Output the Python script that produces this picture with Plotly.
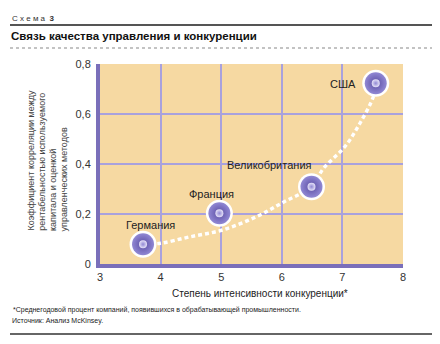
import plotly.graph_objects as go

# ---- data ----
countries = ["Германия", "Франция", "Великобритания", "США"]
competition = [3.71, 4.97, 6.49, 7.55]
correlation = [0.079, 0.203, 0.309, 0.723]

# dashed trend curve
curve_x = [3.71, 4.0, 4.49, 5.02, 5.58, 6.04, 6.49, 6.69, 7.04, 7.29, 7.51, 7.55]
curve_y = [0.079, 0.083, 0.109, 0.136, 0.189, 0.249, 0.309, 0.383, 0.469, 0.563, 0.669, 0.723]

x_ticks = [3, 4, 5, 6, 7, 8]
y_ticks = [0, 0.2, 0.4, 0.6, 0.8]
y_tick_labels = ["0", "0,2", "0,4", "0,6", "0,8"]

scheme_label = "С х е м а  <b>3</b>"
title_text = "Связь качества управления и конкуренции"
y_title_lines = ["Коэффициент корреляции между",
                 "рентабельностью используемого",
                 "капитала и оценкой",
                 "управленческих методов"]
x_title = "Степень интенсивности конкуренции*"
footnote = "*Среднегодовой процент компаний, появившихся в обрабатывающей промышленности."
source = "Источник: Анализ McKinsey."

# ---- layout geometry (pixels) ----
W, H = 440, 344
L, R, T, B = 100, 37, 64, 80
PW, PH = W - L - R, H - T - B


def px(xp):
    return (xp - L) / PW


def py(yp):
    return (H - B - yp) / PH


FONT = "Liberation Sans, Arial, sans-serif"

fig = go.Figure()

fig.add_trace(go.Scatter(
    x=curve_x, y=curve_y, mode="lines",
    line=dict(color="white", width=3.4, dash="4px,3px", shape="spline", smoothing=1.0),
    hoverinfo="skip", showlegend=False))

# white halo
fig.add_trace(go.Scatter(
    x=competition, y=correlation, mode="markers",
    marker=dict(size=27, color="white", line=dict(width=0)),
    hoverinfo="skip", showlegend=False))

# purple sphere
fig.add_trace(go.Scatter(
    x=competition, y=correlation, mode="markers",
    marker=dict(size=22, color="#9188D4",
                gradient=dict(type="radial", color="#5A4DA2"),
                line=dict(width=0)),
    text=countries, hoverinfo="text", showlegend=False))

# highlight
fig.add_trace(go.Scatter(
    x=competition, y=correlation, mode="markers",
    marker=dict(size=8, color="#E6E2F8",
                gradient=dict(type="radial", color="#9188D4"),
                line=dict(width=0)),
    hoverinfo="skip", showlegend=False))

annotations = []
label_offsets = {"Германия": (7, 19), "Франция": (-8, 19),
                 "Великобритания": (-42, 22), "США": (-33, -1)}
for c, xv, yv in zip(countries, competition, correlation):
    dx, dy = label_offsets[c]
    annotations.append(dict(x=xv, y=yv, xref="x", yref="y", text=c, showarrow=False,
                            xshift=dx, yshift=dy,
                            font=dict(family=FONT, size=11, color="#222222")))

# y-axis title lines (rotated)
for i, line in enumerate(y_title_lines):
    annotations.append(dict(x=px(30.5 + i * 11.3), y=py(232), xref="paper", yref="paper",
                            text=line, textangle=-90, showarrow=False,
                            xanchor="center", yanchor="bottom", borderpad=0,
                            font=dict(family=FONT, size=9, color="#444444")))

annotations += [
    dict(x=px(260), y=py(293), xref="paper", yref="paper", text=x_title, showarrow=False,
         xanchor="center", yanchor="middle", font=dict(family=FONT, size=10, color="#222222")),
    dict(x=px(10), y=py(19), xref="paper", yref="paper", text=scheme_label, showarrow=False,
         xanchor="left", yanchor="middle", font=dict(family=FONT, size=8, color="#333333")),
    dict(x=px(9), y=py(36), xref="paper", yref="paper", text="<b>" + title_text + "</b>",
         showarrow=False, xanchor="left", yanchor="middle",
         font=dict(family=FONT, size=11.5, color="#111111")),
    dict(x=px(11), y=py(310), xref="paper", yref="paper", text=footnote, showarrow=False,
         xanchor="left", yanchor="middle", font=dict(family=FONT, size=7, color="#222222")),
    dict(x=px(10), y=py(321), xref="paper", yref="paper", text=source, showarrow=False,
         xanchor="left", yanchor="middle", font=dict(family=FONT, size=7, color="#222222")),
]

shapes = [
    dict(type="line", xref="paper", yref="paper", x0=px(10), x1=px(432), y0=py(25), y1=py(25),
         line=dict(color="#555555", width=2)),
    dict(type="line", xref="paper", yref="paper", x0=px(10), x1=px(432), y0=py(48), y1=py(48),
         line=dict(color="#888888", width=1.2, dash="dot")),
    dict(type="line", xref="paper", yref="paper", x0=px(10), x1=px(432), y0=py(334), y1=py(334),
         line=dict(color="#333333", width=1.5)),
]

fig.update_layout(
    width=W, height=H,
    margin=dict(l=L, r=R, t=T, b=B, pad=0),
    paper_bgcolor="white", plot_bgcolor="#F6D9A2",
    font=dict(family=FONT, size=11, color="#333333"),
    showlegend=False,
    annotations=annotations, shapes=shapes,
    xaxis=dict(range=[3, 8], tickvals=x_ticks, ticktext=[str(v) for v in x_ticks],
               showgrid=True, gridcolor="#A9A1DD", gridwidth=1.5,
               showline=True, linecolor="#7A6FBA", linewidth=4,
               zeroline=False, ticks="", tickfont=dict(size=11, color="#333333"),
               fixedrange=True),
    yaxis=dict(range=[0, 0.8], tickvals=y_ticks, ticktext=y_tick_labels,
               showgrid=True, gridcolor="#A9A1DD", gridwidth=1.5,
               showline=True, linecolor="#7A6FBA", linewidth=4,
               zeroline=False, ticks="", ticklabelstandoff=3,
               tickfont=dict(size=11, color="#333333"), fixedrange=True),
)

fig.write_html("out.html")
